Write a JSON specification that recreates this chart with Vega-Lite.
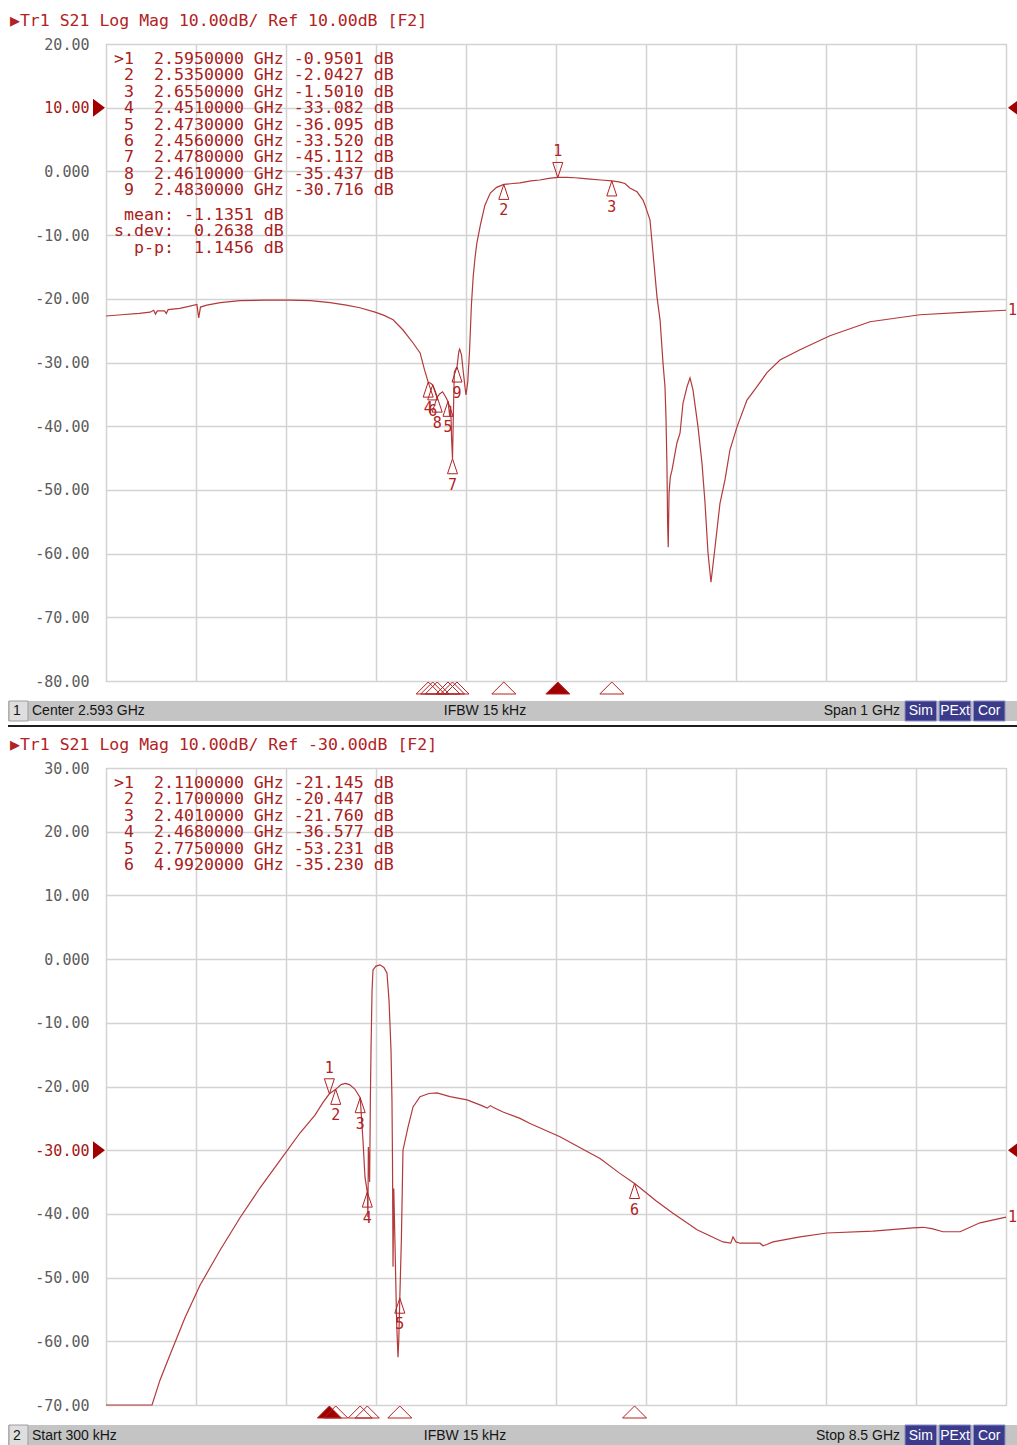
{
"$schema": "https://vega.github.io/schema/vega-lite/v6.json",
"background": "white",
"padding": {"left": 8, "top": 12, "right": 0, "bottom": 0},
"columns": 1,
"spacing": 3,
"datasets": {
"topTrace": [
{"f":2.093,"db":-22.7},{"f":2.11,"db":-22.5},{"f":2.13,"db":-22.3},{"f":2.142,"db":-22.1},{"f":2.146,"db":-21.8},{"f":2.148,"db":-22.4},{"f":2.15,"db":-21.9},{"f":2.158,"db":-21.9},{"f":2.16,"db":-22.3},{"f":2.162,"db":-21.7},{"f":2.175,"db":-21.5},{"f":2.185,"db":-21.2},{"f":2.194,"db":-20.9},{"f":2.196,"db":-23.0},{"f":2.198,"db":-21.3},{"f":2.205,"db":-21.0},{"f":2.22,"db":-20.6},{"f":2.242,"db":-20.3},{"f":2.27,"db":-20.2},{"f":2.297,"db":-20.2},{"f":2.32,"db":-20.3},{"f":2.342,"db":-20.6},{"f":2.36,"db":-21.0},{"f":2.375,"db":-21.4},{"f":2.392,"db":-22.1},{"f":2.402,"db":-22.6},{"f":2.412,"db":-23.3},{"f":2.423,"db":-24.9},{"f":2.434,"db":-26.9},{"f":2.442,"db":-28.5},{"f":2.447,"db":-31.2},{"f":2.451,"db":-33.08},{"f":2.454,"db":-33.3},{"f":2.456,"db":-33.52},{"f":2.459,"db":-34.6},{"f":2.461,"db":-35.44},{"f":2.464,"db":-34.9},{"f":2.467,"db":-34.6},{"f":2.47,"db":-35.3},{"f":2.473,"db":-36.1},{"f":2.475,"db":-38.5},{"f":2.476,"db":-36.8},{"f":2.477,"db":-42.0},{"f":2.478,"db":-45.1},{"f":2.479,"db":-38.0},{"f":2.48,"db":-31.5},{"f":2.482,"db":-30.9},{"f":2.483,"db":-30.7},{"f":2.485,"db":-28.3},{"f":2.486,"db":-27.9},{"f":2.488,"db":-28.8},{"f":2.49,"db":-31.5},{"f":2.492,"db":-34.0},{"f":2.493,"db":-35.1},{"f":2.495,"db":-33.0},{"f":2.497,"db":-28.0},{"f":2.499,"db":-21.0},{"f":2.501,"db":-16.5},{"f":2.503,"db":-13.6},{"f":2.505,"db":-11.3},{"f":2.509,"db":-8.4},{"f":2.514,"db":-5.3},{"f":2.52,"db":-3.4},{"f":2.527,"db":-2.5},{"f":2.535,"db":-2.04},{"f":2.545,"db":-1.9},{"f":2.553,"db":-1.8},{"f":2.565,"db":-1.5},{"f":2.575,"db":-1.35},{"f":2.585,"db":-1.1},{"f":2.595,"db":-0.95},{"f":2.605,"db":-0.95},{"f":2.614,"db":-1.0},{"f":2.622,"db":-1.1},{"f":2.631,"db":-1.2},{"f":2.643,"db":-1.35},{"f":2.655,"db":-1.5},{"f":2.663,"db":-1.65},{"f":2.6697,"db":-1.9},{"f":2.675,"db":-2.6},{"f":2.683,"db":-3.2},{"f":2.6897,"db":-4.5},{"f":2.6919,"db":-5.3},{"f":2.6974,"db":-7.6},{"f":2.7008,"db":-12.8},{"f":2.7052,"db":-19.7},{"f":2.7086,"db":-23.3},{"f":2.7119,"db":-30.1},{"f":2.7141,"db":-33.8},{"f":2.7152,"db":-38.6},{"f":2.7163,"db":-46.4},{"f":2.717,"db":-55.2},{"f":2.7177,"db":-59.0},{"f":2.7186,"db":-50.5},{"f":2.72,"db":-48.0},{"f":2.7219,"db":-46.9},{"f":2.7274,"db":-42.6},{"f":2.7308,"db":-41.1},{"f":2.7341,"db":-36.4},{"f":2.7386,"db":-33.8},{"f":2.7419,"db":-32.4},{"f":2.7452,"db":-34.3},{"f":2.7508,"db":-40.1},{"f":2.7552,"db":-45.8},{"f":2.7586,"db":-52.1},{"f":2.7619,"db":-59.9},{"f":2.7652,"db":-64.5},{"f":2.7697,"db":-59.0},{"f":2.7752,"db":-52.1},{"f":2.7808,"db":-48.4},{"f":2.7863,"db":-43.7},{"f":2.7941,"db":-40.1},{"f":2.8052,"db":-35.9},{"f":2.8163,"db":-33.8},{"f":2.8274,"db":-31.6},{"f":2.8419,"db":-29.6},{"f":2.8641,"db":-28.0},{"f":2.8974,"db":-25.8},{"f":2.9419,"db":-23.6},{"f":2.9974,"db":-22.5},{"f":3.05,"db":-22.1},{"f":3.093,"db":-21.8}
],
"botTrace": [
{"f":0.0003,"db":-70},{"f":0.2,"db":-70},{"f":0.435,"db":-70},{"f":0.51,"db":-66.1},{"f":0.605,"db":-62.1},{"f":0.746,"db":-56.3},{"f":0.888,"db":-51.2},{"f":1.077,"db":-45.7},{"f":1.266,"db":-40.6},{"f":1.455,"db":-35.9},{"f":1.644,"db":-31.6},{"f":1.832,"db":-27.3},{"f":1.974,"db":-24.5},{"f":2.05,"db":-22.5},{"f":2.11,"db":-21.145},{"f":2.17,"db":-20.447},{"f":2.22,"db":-19.7},{"f":2.26,"db":-19.5},{"f":2.3,"db":-19.7},{"f":2.35,"db":-20.4},{"f":2.401,"db":-21.76},{"f":2.427,"db":-28.4},{"f":2.446,"db":-34.2},{"f":2.468,"db":-36.58},{"f":2.474,"db":-40.5},{"f":2.478,"db":-29.5},{"f":2.483,"db":-31.5},{"f":2.49,"db":-35.0},{"f":2.497,"db":-22.1},{"f":2.503,"db":-14.3},{"f":2.513,"db":-4.9},{"f":2.522,"db":-1.7},{"f":2.55,"db":-1.1},{"f":2.588,"db":-0.9},{"f":2.625,"db":-1.3},{"f":2.654,"db":-2.2},{"f":2.673,"db":-6.4},{"f":2.692,"db":-14.3},{"f":2.701,"db":-22.1},{"f":2.706,"db":-31.6},{"f":2.711,"db":-48.3},{"f":2.718,"db":-36.0},{"f":2.73,"db":-45.0},{"f":2.745,"db":-57.0},{"f":2.758,"db":-62.5},{"f":2.765,"db":-60.0},{"f":2.775,"db":-53.23},{"f":2.79,"db":-44.0},{"f":2.805,"db":-30.0},{"f":2.852,"db":-26.4},{"f":2.9,"db":-23.2},{"f":2.966,"db":-21.6},{"f":3.05,"db":-21.1},{"f":3.126,"db":-21.0},{"f":3.249,"db":-21.6},{"f":3.41,"db":-22.1},{"f":3.55,"db":-23.0},{"f":3.6,"db":-23.4},{"f":3.63,"db":-23.0},{"f":3.66,"db":-23.3},{"f":3.75,"db":-24.0},{"f":3.91,"db":-25.0},{"f":4.005,"db":-25.8},{"f":4.288,"db":-27.9},{"f":4.5,"db":-29.8},{"f":4.666,"db":-31.3},{"f":4.85,"db":-33.6},{"f":4.992,"db":-35.23},{"f":5.043,"db":-35.9},{"f":5.2,"db":-38.0},{"f":5.355,"db":-39.9},{"f":5.582,"db":-42.5},{"f":5.827,"db":-44.4},{"f":5.9,"db":-44.6},{"f":5.922,"db":-43.6},{"f":5.95,"db":-44.4},{"f":5.988,"db":-44.6},{"f":6.177,"db":-44.6},{"f":6.205,"db":-45.0},{"f":6.24,"db":-44.8},{"f":6.3,"db":-44.4},{"f":6.555,"db":-43.6},{"f":6.809,"db":-43.0},{"f":7.244,"db":-42.7},{"f":7.622,"db":-42.2},{"f":7.716,"db":-42.1},{"f":7.8,"db":-42.3},{"f":7.905,"db":-42.8},{"f":8.066,"db":-42.8},{"f":8.254,"db":-41.4},{"f":8.5,"db":-40.5}
],
"topMarkers": [
{"m":"1","f":2.595,"db":-0.9501,"active":true},
{"m":"2","f":2.535,"db":-2.0427,"active":false},
{"m":"3","f":2.655,"db":-1.501,"active":false},
{"m":"4","f":2.451,"db":-33.082,"active":false},
{"m":"5","f":2.473,"db":-36.095,"active":false},
{"m":"6","f":2.456,"db":-33.52,"active":false},
{"m":"7","f":2.478,"db":-45.112,"active":false},
{"m":"8","f":2.461,"db":-35.437,"active":false},
{"m":"9","f":2.483,"db":-30.716,"active":false}
],
"botMarkers": [
{"m":"1","f":2.11,"db":-21.145,"active":true},
{"m":"2","f":2.17,"db":-20.447,"active":false},
{"m":"3","f":2.401,"db":-21.76,"active":false},
{"m":"4","f":2.468,"db":-36.577,"active":false},
{"m":"5","f":2.775,"db":-53.231,"active":false},
{"m":"6","f":4.992,"db":-35.23,"active":false}
],
"badges": [{"b":"Sim"},{"b":"PExt"},{"b":"Cor"}]
},
"concat": [
{
"width": 900, "height": 637,
"title": {"text": "▶Tr1 S21 Log Mag 10.00dB/ Ref 10.00dB [F2]", "anchor": "start", "frame": "group", "dx": -96, "offset": 8, "font": "DejaVu Sans Mono", "fontSize": 16.5, "fontWeight": "normal", "color": "#b22222"},
"layer": [
{"data": {"name": "topTrace"}, "mark": {"type": "line", "color": "#b3393b", "strokeWidth": 1.2},
 "encoding": {
  "x": {"field": "f", "type": "quantitative", "scale": {"domain": [2.093, 3.093], "nice": false, "zero": false},
        "axis": {"values": [2.093,2.193,2.293,2.393,2.493,2.593,2.693,2.793,2.893,2.993,3.093], "labels": false, "ticks": false, "domain": false, "title": null, "grid": true}},
  "y": {"field": "db", "type": "quantitative", "scale": {"domain": [-80, 20], "nice": false, "zero": false},
        "axis": {"values": [-80,-70,-60,-50,-40,-30,-20,-10,0,10,20], "title": null, "ticks": false, "domain": false, "grid": true, "labelPadding": 17, "labelFont": "DejaVu Sans Mono", "labelFontSize": 15,
                 "labelColor": {"condition": {"test": "datum.value == 10", "value": "#a31515"}, "value": "#5c5c5c"},
                 "labelExpr": "datum.value == 0 ? '0.000' : (datum.value < 0 ? '-' : '') + format(abs(datum.value), '.2f')"}}
 }},
{"data": {"name": "topMarkers"}, "transform": [{"filter": "!datum.active"}],
 "mark": {"type": "point", "shape": "M0,0L-1,3L1,3Z", "size": 100, "filled": false, "color": "#b22222", "strokeWidth": 1, "opacity": 1},
 "encoding": {"x": {"field": "f", "type": "quantitative"}, "y": {"field": "db", "type": "quantitative"}}},
{"data": {"name": "topMarkers"}, "transform": [{"filter": "!datum.active"}],
 "mark": {"type": "text", "dy": 26, "font": "DejaVu Sans Mono", "fontSize": 15, "color": "#b22222"},
 "encoding": {"x": {"field": "f", "type": "quantitative"}, "y": {"field": "db", "type": "quantitative"}, "text": {"field": "m"}}},
{"data": {"name": "topMarkers"}, "transform": [{"filter": "datum.active"}],
 "mark": {"type": "point", "shape": "M0,0L-1,-3L1,-3Z", "size": 100, "filled": false, "color": "#b22222", "strokeWidth": 1, "opacity": 1},
 "encoding": {"x": {"field": "f", "type": "quantitative"}, "y": {"field": "db", "type": "quantitative"}}},
{"data": {"name": "topMarkers"}, "transform": [{"filter": "datum.active"}],
 "mark": {"type": "text", "dy": -26, "font": "DejaVu Sans Mono", "fontSize": 15, "color": "#b22222"},
 "encoding": {"x": {"field": "f", "type": "quantitative"}, "y": {"field": "db", "type": "quantitative"}, "text": {"field": "m"}}},
{"data": {"name": "topMarkers"},
 "mark": {"type": "point", "shape": "M-1,1L1,1L0,0Z", "size": 576, "filled": true, "stroke": "#b22222", "strokeWidth": 1, "yOffset": 1, "opacity": 1},
 "encoding": {"x": {"field": "f", "type": "quantitative"}, "y": {"datum": -80, "type": "quantitative"},
  "fill": {"condition": {"test": "datum.active", "value": "#a00000"}, "value": "transparent"}}},
{"data": {"values": [{"ref": 10}]},
 "mark": {"type": "point", "shape": "M-1,-1.5L1,0L-1,1.5Z", "size": 144, "filled": true, "color": "#a00000", "xOffset": -7, "opacity": 1},
 "encoding": {"x": {"datum": 2.093, "type": "quantitative"}, "y": {"field": "ref", "type": "quantitative"}}},
{"data": {"values": [{"ref": 10}]},
 "mark": {"type": "point", "shape": "M1,-1.5L-1,0L1,1.5Z", "size": 144, "filled": true, "color": "#a00000", "xOffset": 8, "opacity": 1},
 "encoding": {"x": {"datum": 3.093, "type": "quantitative"}, "y": {"field": "ref", "type": "quantitative"}}},
{"data": {"name": "topTrace"}, "transform": [{"joinaggregate": [{"op": "max", "field": "f", "as": "fmax"}]}, {"filter": "datum.f == datum.fmax"}],
 "mark": {"type": "text", "text": "1", "align": "left", "dx": 2, "font": "DejaVu Sans Mono", "fontSize": 15, "color": "#b22222"},
 "encoding": {"x": {"field": "f", "type": "quantitative"}, "y": {"field": "db", "type": "quantitative"}}},
{"data": {"values": [{"t": ">1\u00a0\u00a02.5950000\u00a0GHz\u00a0-0.9501\u00a0dB\n\u200b\u00a02\u00a0\u00a02.5350000\u00a0GHz\u00a0-2.0427\u00a0dB\n\u200b\u00a03\u00a0\u00a02.6550000\u00a0GHz\u00a0-1.5010\u00a0dB\n\u200b\u00a04\u00a0\u00a02.4510000\u00a0GHz\u00a0-33.082\u00a0dB\n\u200b\u00a05\u00a0\u00a02.4730000\u00a0GHz\u00a0-36.095\u00a0dB\n\u200b\u00a06\u00a0\u00a02.4560000\u00a0GHz\u00a0-33.520\u00a0dB\n\u200b\u00a07\u00a0\u00a02.4780000\u00a0GHz\u00a0-45.112\u00a0dB\n\u200b\u00a08\u00a0\u00a02.4610000\u00a0GHz\u00a0-35.437\u00a0dB\n\u200b\u00a09\u00a0\u00a02.4830000\u00a0GHz\u00a0-30.716\u00a0dB"}]},
 "mark": {"type": "text", "align": "left", "baseline": "top", "dx": 8, "dy": 7, "font": "DejaVu Sans Mono", "fontSize": 16.6, "lineHeight": 16.4, "lineBreak": "\n", "color": "#a82020"},
 "encoding": {"x": {"datum": 2.093, "type": "quantitative"}, "y": {"datum": 20, "type": "quantitative"}, "text": {"field": "t"}}},
{"data": {"values": [{"t": "\u200b\u00a0mean:\u00a0-1.1351\u00a0dB\ns.dev:\u00a0\u00a00.2638\u00a0dB\n\u200b\u00a0\u00a0p-p:\u00a0\u00a01.1456\u00a0dB"}]},
 "mark": {"type": "text", "align": "left", "baseline": "top", "dx": 8, "dy": 163, "font": "DejaVu Sans Mono", "fontSize": 16.6, "lineHeight": 16.4, "lineBreak": "\n", "color": "#a82020"},
 "encoding": {"x": {"datum": 2.093, "type": "quantitative"}, "y": {"datum": 20, "type": "quantitative"}, "text": {"field": "t"}}}
]
},
{
"width": 911, "height": 20,
"view": {"stroke": null},
"layer": [
{"data": {"values": [{"k": "bar"}]},
 "mark": {"type": "rect", "color": "#c4c4c4"},
 "encoding": {"x": {"field": "k", "type": "nominal", "scale": {"type": "band", "domain": ["bar"], "range": [-98, 911], "paddingInner": 0, "paddingOuter": 0}, "axis": null}}},
{"data": {"values": [{"k": "num"}]},
 "mark": {"type": "rect", "color": "#dedede", "stroke": "#9c9c9c", "strokeWidth": 1},
 "encoding": {"x": {"field": "k", "type": "nominal", "scale": {"type": "band", "domain": ["num"], "range": [-97, -78], "paddingInner": 0, "paddingOuter": 0}, "axis": null}}},
{"data": {"values": [{"slot":"N","label":"1"},{"slot":"L","label":"Center 2.593 GHz"}]},
 "mark": {"type": "text", "font": "Liberation Sans", "fontSize": 14, "color": "#151515", "baseline": "middle", "align": "left"},
 "encoding": {"x": {"field": "slot", "type": "nominal", "scale": {"type": "point", "domain": ["N","L"], "range": [-93, -74], "padding": 0}, "axis": null}, "text": {"field": "label"}}},
{"data": {"values": [{"slot":"C","label":"IFBW 15 kHz"}]},
 "mark": {"type": "text", "font": "Liberation Sans", "fontSize": 14, "color": "#151515", "baseline": "middle", "align": "center"},
 "encoding": {"x": {"field": "slot", "type": "nominal", "scale": {"type": "point", "domain": ["C"], "range": [379, 379], "padding": 0}, "axis": null}, "text": {"field": "label"}}},
{"data": {"values": [{"slot":"R","label":"Span 1 GHz"}]},
 "mark": {"type": "text", "font": "Liberation Sans", "fontSize": 14, "color": "#151515", "baseline": "middle", "align": "right"},
 "encoding": {"x": {"field": "slot", "type": "nominal", "scale": {"type": "point", "domain": ["R"], "range": [794, 794], "padding": 0}, "axis": null}, "text": {"field": "label"}}},
{"data": {"name": "badges"},
 "mark": {"type": "rect", "color": "#3b3b8c", "stroke": "#8c8cc8", "strokeWidth": 1},
 "encoding": {"x": {"field": "b", "type": "nominal", "scale": {"type": "band", "domain": ["Sim","PExt","Cor"], "range": [799, 899], "paddingInner": 0.08, "paddingOuter": 0}, "axis": null}}},
{"data": {"name": "badges"},
 "mark": {"type": "text", "color": "white", "font": "Liberation Sans", "fontSize": 14, "baseline": "middle"},
 "encoding": {"x": {"field": "b", "type": "nominal", "scale": {"type": "band", "domain": ["Sim","PExt","Cor"], "range": [799, 899], "paddingInner": 0.08, "paddingOuter": 0}, "axis": null}, "text": {"field": "b"}}}
],
"resolve": {"scale": {"x": "independent"}}
},
{
"width": 911, "height": 8,
"view": {"stroke": null},
"data": {"values": [{"k": "line"}]},
"mark": {"type": "rect", "color": "#1e1e1e"},
"encoding": {
 "x": {"field": "k", "type": "nominal", "scale": {"type": "band", "domain": ["line"], "range": [-98, 911], "paddingInner": 0, "paddingOuter": 0}, "axis": null},
 "y": {"field": "k", "type": "nominal", "scale": {"type": "band", "domain": ["line"], "range": [0, 2], "paddingInner": 0, "paddingOuter": 0}, "axis": null}
}
},
{
"width": 900, "height": 637,
"title": {"text": "▶Tr1 S21 Log Mag 10.00dB/ Ref -30.00dB [F2]", "anchor": "start", "frame": "group", "dx": -96, "offset": 8, "font": "DejaVu Sans Mono", "fontSize": 16.5, "fontWeight": "normal", "color": "#b22222"},
"layer": [
{"data": {"name": "botTrace"}, "mark": {"type": "line", "color": "#b3393b", "strokeWidth": 1.2},
 "encoding": {
  "x": {"field": "f", "type": "quantitative", "scale": {"domain": [0.0003, 8.5], "nice": false, "zero": false},
        "axis": {"values": [0.0003,0.85027,1.70024,2.55021,3.40018,4.25015,5.10012,5.95009,6.80006,7.65003,8.5], "labels": false, "ticks": false, "domain": false, "title": null, "grid": true}},
  "y": {"field": "db", "type": "quantitative", "scale": {"domain": [-70, 30], "nice": false, "zero": false},
        "axis": {"values": [-70,-60,-50,-40,-30,-20,-10,0,10,20,30], "title": null, "ticks": false, "domain": false, "grid": true, "labelPadding": 17, "labelFont": "DejaVu Sans Mono", "labelFontSize": 15,
                 "labelColor": {"condition": {"test": "datum.value == -30", "value": "#a31515"}, "value": "#5c5c5c"},
                 "labelExpr": "datum.value == 0 ? '0.000' : (datum.value < 0 ? '-' : '') + format(abs(datum.value), '.2f')"}}
 }},
{"data": {"name": "botMarkers"}, "transform": [{"filter": "!datum.active"}],
 "mark": {"type": "point", "shape": "M0,0L-1,3L1,3Z", "size": 100, "filled": false, "color": "#b22222", "strokeWidth": 1, "opacity": 1},
 "encoding": {"x": {"field": "f", "type": "quantitative"}, "y": {"field": "db", "type": "quantitative"}}},
{"data": {"name": "botMarkers"}, "transform": [{"filter": "!datum.active"}],
 "mark": {"type": "text", "dy": 26, "font": "DejaVu Sans Mono", "fontSize": 15, "color": "#b22222"},
 "encoding": {"x": {"field": "f", "type": "quantitative"}, "y": {"field": "db", "type": "quantitative"}, "text": {"field": "m"}}},
{"data": {"name": "botMarkers"}, "transform": [{"filter": "datum.active"}],
 "mark": {"type": "point", "shape": "M0,0L-1,-3L1,-3Z", "size": 100, "filled": false, "color": "#b22222", "strokeWidth": 1, "opacity": 1},
 "encoding": {"x": {"field": "f", "type": "quantitative"}, "y": {"field": "db", "type": "quantitative"}}},
{"data": {"name": "botMarkers"}, "transform": [{"filter": "datum.active"}],
 "mark": {"type": "text", "dy": -26, "font": "DejaVu Sans Mono", "fontSize": 15, "color": "#b22222"},
 "encoding": {"x": {"field": "f", "type": "quantitative"}, "y": {"field": "db", "type": "quantitative"}, "text": {"field": "m"}}},
{"data": {"name": "botMarkers"},
 "mark": {"type": "point", "shape": "M-1,1L1,1L0,0Z", "size": 576, "filled": true, "stroke": "#b22222", "strokeWidth": 1, "yOffset": 1, "opacity": 1},
 "encoding": {"x": {"field": "f", "type": "quantitative"}, "y": {"datum": -70, "type": "quantitative"},
  "fill": {"condition": {"test": "datum.active", "value": "#a00000"}, "value": "transparent"}}},
{"data": {"values": [{"ref": -30}]},
 "mark": {"type": "point", "shape": "M-1,-1.5L1,0L-1,1.5Z", "size": 144, "filled": true, "color": "#a00000", "xOffset": -7, "opacity": 1},
 "encoding": {"x": {"datum": 0.0003, "type": "quantitative"}, "y": {"field": "ref", "type": "quantitative"}}},
{"data": {"values": [{"ref": -30}]},
 "mark": {"type": "point", "shape": "M1,-1.5L-1,0L1,1.5Z", "size": 144, "filled": true, "color": "#a00000", "xOffset": 8, "opacity": 1},
 "encoding": {"x": {"datum": 8.5, "type": "quantitative"}, "y": {"field": "ref", "type": "quantitative"}}},
{"data": {"name": "botTrace"}, "transform": [{"joinaggregate": [{"op": "max", "field": "f", "as": "fmax"}]}, {"filter": "datum.f == datum.fmax"}],
 "mark": {"type": "text", "text": "1", "align": "left", "dx": 2, "font": "DejaVu Sans Mono", "fontSize": 15, "color": "#b22222"},
 "encoding": {"x": {"field": "f", "type": "quantitative"}, "y": {"field": "db", "type": "quantitative"}}},
{"data": {"values": [{"t": ">1\u00a0\u00a02.1100000\u00a0GHz\u00a0-21.145\u00a0dB\n\u200b\u00a02\u00a0\u00a02.1700000\u00a0GHz\u00a0-20.447\u00a0dB\n\u200b\u00a03\u00a0\u00a02.4010000\u00a0GHz\u00a0-21.760\u00a0dB\n\u200b\u00a04\u00a0\u00a02.4680000\u00a0GHz\u00a0-36.577\u00a0dB\n\u200b\u00a05\u00a0\u00a02.7750000\u00a0GHz\u00a0-53.231\u00a0dB\n\u200b\u00a06\u00a0\u00a04.9920000\u00a0GHz\u00a0-35.230\u00a0dB"}]},
 "mark": {"type": "text", "align": "left", "baseline": "top", "dx": 8, "dy": 7, "font": "DejaVu Sans Mono", "fontSize": 16.6, "lineHeight": 16.4, "lineBreak": "\n", "color": "#a82020"},
 "encoding": {"x": {"datum": 0.0003, "type": "quantitative"}, "y": {"datum": 30, "type": "quantitative"}, "text": {"field": "t"}}}
]
},
{
"width": 911, "height": 22,
"view": {"stroke": null},
"layer": [
{"data": {"values": [{"k": "bar"}]},
 "mark": {"type": "rect", "color": "#c4c4c4"},
 "encoding": {"x": {"field": "k", "type": "nominal", "scale": {"type": "band", "domain": ["bar"], "range": [-98, 911], "paddingInner": 0, "paddingOuter": 0}, "axis": null}}},
{"data": {"values": [{"k": "num"}]},
 "mark": {"type": "rect", "color": "#dedede", "stroke": "#9c9c9c", "strokeWidth": 1},
 "encoding": {"x": {"field": "k", "type": "nominal", "scale": {"type": "band", "domain": ["num"], "range": [-97, -78], "paddingInner": 0, "paddingOuter": 0}, "axis": null}}},
{"data": {"values": [{"slot":"N","label":"2"},{"slot":"L","label":"Start 300 kHz"}]},
 "mark": {"type": "text", "font": "Liberation Sans", "fontSize": 14, "color": "#151515", "baseline": "middle", "align": "left"},
 "encoding": {"x": {"field": "slot", "type": "nominal", "scale": {"type": "point", "domain": ["N","L"], "range": [-93, -74], "padding": 0}, "axis": null}, "text": {"field": "label"}}},
{"data": {"values": [{"slot":"C","label":"IFBW 15 kHz"}]},
 "mark": {"type": "text", "font": "Liberation Sans", "fontSize": 14, "color": "#151515", "baseline": "middle", "align": "center"},
 "encoding": {"x": {"field": "slot", "type": "nominal", "scale": {"type": "point", "domain": ["C"], "range": [359, 359], "padding": 0}, "axis": null}, "text": {"field": "label"}}},
{"data": {"values": [{"slot":"R","label":"Stop 8.5 GHz"}]},
 "mark": {"type": "text", "font": "Liberation Sans", "fontSize": 14, "color": "#151515", "baseline": "middle", "align": "right"},
 "encoding": {"x": {"field": "slot", "type": "nominal", "scale": {"type": "point", "domain": ["R"], "range": [794, 794], "padding": 0}, "axis": null}, "text": {"field": "label"}}},
{"data": {"name": "badges"},
 "mark": {"type": "rect", "color": "#3b3b8c", "stroke": "#8c8cc8", "strokeWidth": 1},
 "encoding": {"x": {"field": "b", "type": "nominal", "scale": {"type": "band", "domain": ["Sim","PExt","Cor"], "range": [799, 899], "paddingInner": 0.08, "paddingOuter": 0}, "axis": null}}},
{"data": {"name": "badges"},
 "mark": {"type": "text", "color": "white", "font": "Liberation Sans", "fontSize": 14, "baseline": "middle"},
 "encoding": {"x": {"field": "b", "type": "nominal", "scale": {"type": "band", "domain": ["Sim","PExt","Cor"], "range": [799, 899], "paddingInner": 0.08, "paddingOuter": 0}, "axis": null}, "text": {"field": "b"}}}
],
"resolve": {"scale": {"x": "independent"}}
}
],
"config": {
 "view": {"stroke": "#8e8e8e"},
 "axis": {"gridColor": "#d3d3d3", "gridWidth": 1.5}
}
}
